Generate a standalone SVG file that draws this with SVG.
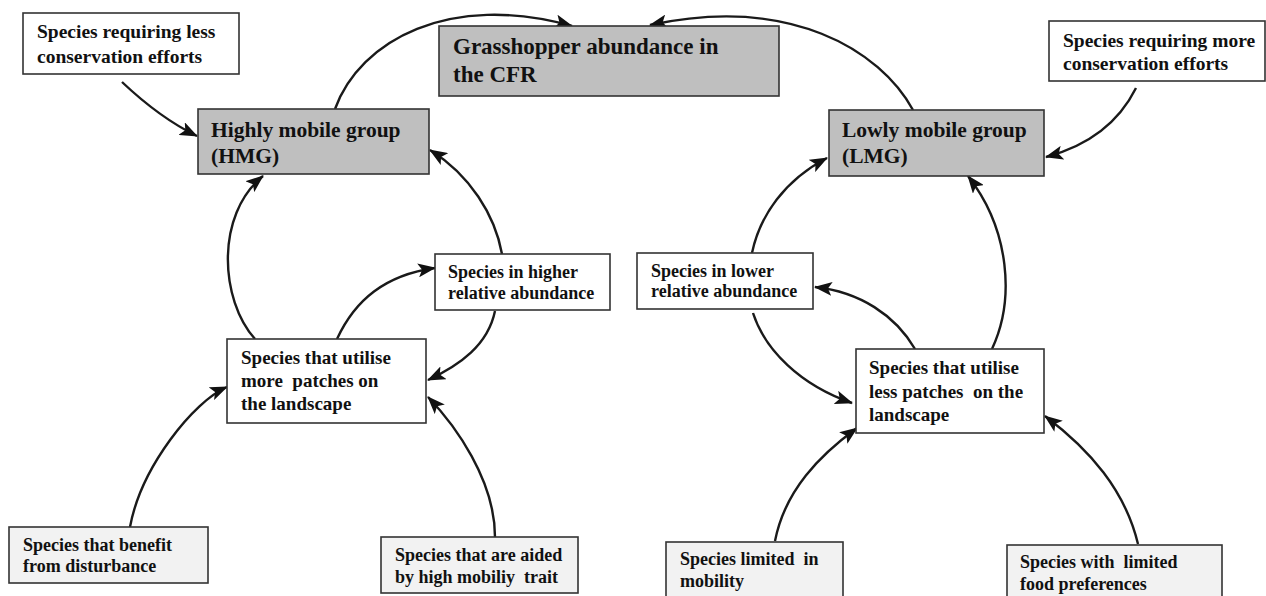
<svg xmlns="http://www.w3.org/2000/svg" width="1266" height="596" viewBox="0 0 1266 596">
<style>
rect{stroke:#333;stroke-width:1.6}
.w{fill:#fff}
.g{fill:#bfbfbf}
.l{fill:#f2f2f2}
text{font-family:"Liberation Serif","Times New Roman",serif;font-weight:bold;fill:#111}
.s18{font-size:18px}
.s19{font-size:19px}
.s20{font-size:19.5px}
.s21{font-size:21.5px}
.s22{font-size:23px}
#connectors path{fill:none;stroke:#1a1a1a;stroke-width:2.4;marker-end:url(#ah)}
</style>
<defs>
<marker id="ah" markerUnits="userSpaceOnUse" markerWidth="20" markerHeight="14" refX="17" refY="7" orient="auto">
<path d="M0,0 L18,7 L0,14 L4,7 z" fill="#111"/>
</marker>
</defs>
<g id="connectors">
<path d="M122,82 Q160,118 197,136"/>
<path d="M335,109 C360,40 450,-8 572,26"/>
<path d="M913,110 C880,50 790,-5 650,25"/>
<path d="M1136,88 Q1110,140 1046,157"/>
<path d="M255,339 C220,300 215,215 263,176"/>
<path d="M502,254 C495,215 470,175 430,150"/>
<path d="M337,339 C355,300 385,275 435,268"/>
<path d="M495,311 C488,345 460,365 428,380"/>
<path d="M130,527 C141,467 194,401 227,387"/>
<path d="M495,537 C495,480 455,425 428,397"/>
<path d="M752,253 C760,215 785,180 827,158"/>
<path d="M915,349 C895,315 860,292 815,287"/>
<path d="M753,313 C765,350 800,385 852,403"/>
<path d="M992,349 C1015,300 1010,230 968,176"/>
<path d="M775,541 C785,490 820,455 857,428"/>
<path d="M1138,544 C1125,490 1090,450 1045,416"/>
</g>
<g id="less-conservation">
<rect class="w" x="23" y="13" width="216" height="61"/>
<text class="s20" x="37" y="38">Species requiring less</text>
<text class="s20" x="37" y="63">conservation efforts</text>
</g>
<g id="hmg">
<rect class="g" x="198" y="109" width="231" height="65"/>
<text class="s21" x="211" y="137">Highly mobile group</text>
<text class="s21" x="211" y="163">(HMG)</text>
</g>
<g id="grasshopper">
<rect class="g" x="439" y="26" width="340" height="70"/>
<text class="s22" x="453" y="54">Grasshopper abundance in</text>
<text class="s22" x="453" y="82">the CFR</text>
</g>
<g id="lmg">
<rect class="g" x="829" y="110" width="215" height="66"/>
<text class="s21" x="842" y="137">Lowly mobile group</text>
<text class="s21" x="842" y="163">(LMG)</text>
</g>
<g id="more-conservation">
<rect class="w" x="1049" y="21" width="216" height="60"/>
<text class="s20" x="1063" y="47">Species requiring more</text>
<text class="s20" x="1063" y="70">conservation efforts</text>
</g>
<g id="higher">
<rect class="w" x="435" y="254" width="175" height="56"/>
<text class="s18" x="448" y="278">Species in higher</text>
<text class="s18" x="448" y="299">relative abundance</text>
</g>
<g id="lower">
<rect class="w" x="637" y="253" width="176" height="56"/>
<text class="s18" x="651" y="277">Species in lower</text>
<text class="s18" x="651" y="297">relative abundance</text>
</g>
<g id="more-patches">
<rect class="w" x="227" y="339" width="199" height="84"/>
<text class="s19" x="241" y="364">Species that utilise</text>
<text class="s19" x="241" y="387" xml:space="preserve">more  patches on</text>
<text class="s19" x="241" y="410">the landscape</text>
</g>
<g id="less-patches">
<rect class="w" x="856" y="349" width="188" height="84"/>
<text class="s19" x="869" y="374">Species that utilise</text>
<text class="s19" x="869" y="398" xml:space="preserve">less patches  on the</text>
<text class="s19" x="869" y="421">landscape</text>
</g>
<g id="benefit">
<rect class="l" x="9" y="527" width="199" height="56"/>
<text class="s18" x="23" y="551">Species that benefit</text>
<text class="s18" x="23" y="572">from disturbance</text>
</g>
<g id="aided">
<rect class="l" x="381" y="537" width="197" height="56"/>
<text class="s18" x="395" y="561">Species that are aided</text>
<text class="s18" x="395" y="583" xml:space="preserve">by high mobiliy  trait</text>
</g>
<g id="limited-mobility">
<rect class="l" x="666" y="542" width="177" height="62"/>
<text class="s18" x="680" y="565" xml:space="preserve">Species limited  in</text>
<text class="s18" x="680" y="587">mobility</text>
</g>
<g id="food">
<rect class="l" x="1007" y="545" width="215" height="62"/>
<text class="s18" x="1020" y="568" xml:space="preserve">Species with  limited</text>
<text class="s18" x="1020" y="590">food preferences</text>
</g>
</svg>
